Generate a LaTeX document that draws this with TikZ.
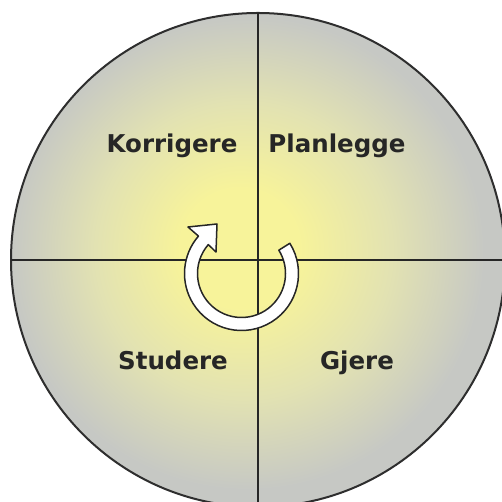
\documentclass[tikz,border=0pt]{standalone}
\usepackage{fontspec}
\setmainfont{DejaVu Sans}
\usetikzlibrary{calc}
\definecolor{glowc}{HTML}{F7F39A}
\definecolor{midc}{HTML}{E2E2B2}
\definecolor{grayc}{HTML}{C6C8C4}
\definecolor{inkc}{HTML}{262626}
\definecolor{rimc}{HTML}{2E2E2E}
\pgfdeclareradialshading{glow}{\pgfpoint{-2.1bp}{1.4bp}}{color(0bp)=(glowc); color(6bp)=(glowc); color(15bp)=(midc); color(24bp)=(grayc); color(50bp)=(grayc)}
\tikzset{
  lbl/.style={font=\fontsize{24.5}{28}\selectfont\bfseries, text=inkc, anchor=base, inner sep=0pt},
  quadline/.style={draw=inkc, line width=1.6pt},
  arrowsty/.style={fill=white, draw=inkc, line width=1.5pt, line join=round},
}
\begin{document}
\begin{tikzpicture}[x=1pt,y=1pt]
\useasboundingbox (0,0) rectangle (502,502);
\fill[white] (0,0) rectangle (502,502);
\coordinate (disc) at (258,242);
\coordinate (ctr) at (241.5,228.5);
\shade[shading=glow] (disc) circle[radius=247];
\draw[draw=rimc, line width=2pt] (disc) circle[radius=247];
\draw[quadline] ($(disc)+(0,247)$) -- ($(disc)+(0,-247)$);
\draw[quadline] ($(disc)+(-247,0)$) -- ($(disc)+(247,0)$);
\node[lbl] (korr) at (172,349) {Korrigere};
\node[lbl] (plan) at (337,349) {Planlegge};
\node[lbl] (stud) at (173,132) {Studere};
\node[lbl] (gjer) at (357,132) {Gjere};
\draw[arrowsty] ($(ctr)+(32:57)$) arc[start angle=32, end angle=-221, radius=57]
  -- (188,275) -- (217,278) -- (216,250)
  -- ($(ctr)+(-221:44)$) arc[start angle=-221, end angle=32, radius=44] -- cycle;
\end{tikzpicture}
\end{document}
